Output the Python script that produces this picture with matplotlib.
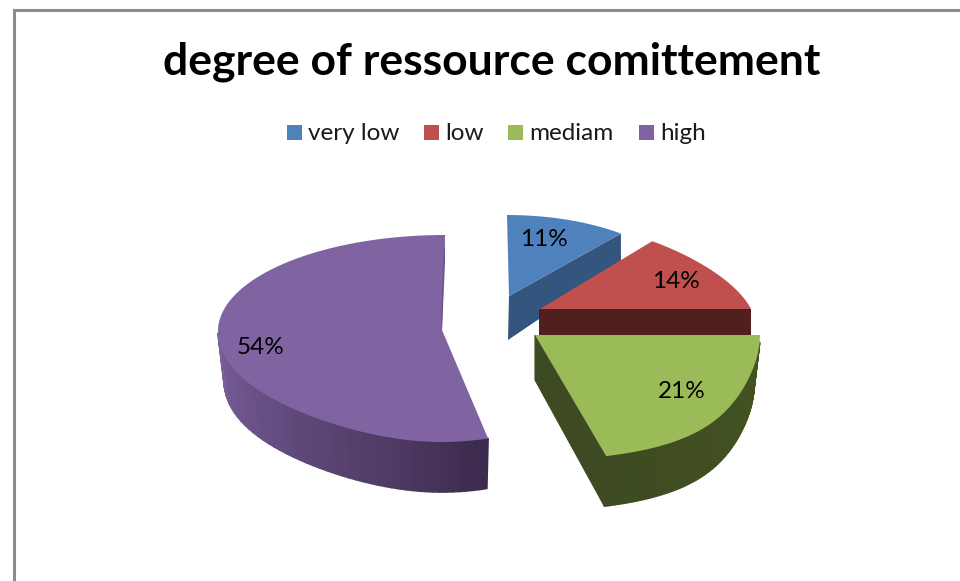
import numpy as np
import matplotlib
matplotlib.use('Agg')
import matplotlib.pyplot as plt
from matplotlib.collections import PolyCollection
from matplotlib.colors import to_rgb
from matplotlib.patches import Polygon, Rectangle

title = 'degree of ressource comittement'
categories = ['very low', 'low', 'mediam', 'high']
shares = [11, 14, 21, 54]

# slice look: apex, radii (back/front of the ellipse), perspective skew, wall depth
top_colors = ['#4f81bd', '#c0504d', '#9bbb59', '#8064a2']
wall_light = ['#34557d', '#4f201d', '#44541f', '#7a5f9b']
wall_dark = ['#34557d', '#4f201d', '#3e4b22', '#3c2b4d']
apex = [(509, 296), (540, 309), (535, 335), (442, 330)]
rx = [178, 211, 225, 224]
ry_back = [81, 88, 90, 95]
ry_front = [90, 90, 125, 112]
skew_back = [0.0, 0.215, 0.0, 0.0]
skew_front = [0.0, 0.0, 0.3, -0.19]
lean = [-2, 0, 0, 3]
depth = [44, 27, 50, 50]
legend_x = [287, 424, 508, 639]
text_pos = [(544, 240), (676, 282), (682, 392), (261, 348)]
wall_shrink = 0.973


def rim(i, theta):
    c = np.cos(theta)
    factor = np.where(c > 0, 1 - skew_back[i] * c, 1 - skew_front[i] * c ** 3)
    x = apex[i][0] + rx[i] * np.sin(theta) * factor + lean[i] * np.clip(c, 0, 1)
    y = apex[i][1] - np.where(c > 0, ry_back[i], ry_front[i]) * c
    return x, y


def draw_slice(ax, i, t0, t1):
    theta = np.linspace(t0, t1, 90)
    x, y = rim(i, theta)
    ax0, ay0 = apex[i]
    d = depth[i]
    xb = ax0 + (x - ax0) * wall_shrink
    light = np.array(to_rgb(wall_light[i]))
    dark = np.array(to_rgb(wall_dark[i]))

    # walls going in from the apex
    if i == 0:
        ax.add_patch(Polygon([(ax0, ay0), (x[-1], y[-1]), (x[-1], y[-1] + d - 14), (ax0 - 1, ay0 + d)],
                             fc=wall_light[i], ec='none', zorder=i + 1))
    if i == 1:
        ax.add_patch(Rectangle((ax0 - 1, ay0), x[-1] - ax0 + 1, d, fc=wall_light[i], ec='none', zorder=i + 1))
    if i == 2:
        ax.add_patch(Polygon([(ax0, ay0), (x[-1], y[-1]), (xb[-1], y[-1] + d), (ax0, ay0 + 45)],
                             fc=wall_dark[i], ec=wall_dark[i], lw=0.8, zorder=i + 1.2))

    # outer wall, shaded in thin strips, only the part that faces the viewer
    if i >= 2:
        polys, cols = [], []
        for k in range(len(theta) - 1):
            if np.cos(theta[k]) > -0.05:
                continue
            polys.append([(x[k], y[k]), (x[k + 1], y[k + 1]), (xb[k + 1], y[k + 1] + d), (xb[k], y[k] + d)])
            f = k / (len(theta) - 2)
            # purple goes dark towards its right end, green stays nearly flat
            f = 1 - f if i == 2 else min(1, f * 1.9)
            cols.append(tuple(dark + (light - dark) * f))
        ax.add_collection(PolyCollection(polys, facecolors=cols, edgecolors=cols, linewidths=1.2, zorder=i + 1))

    ax.add_patch(Polygon(np.r_[[(ax0, ay0)], np.c_[x, y]], fc=top_colors[i], ec='none', zorder=i + 1.5))

    # thin inner wall on the purple slice, seen along its straight edge
    if i == 3:
        ax.add_patch(Polygon([(x[-1], y[-1]), (x[-1], y[-1] + 28), (ax0, ay0), (ax0 - 1, ay0 - 5),
                              (x[-1] - 2, y[-1] + 30)], fc='#6d558c', ec='none', zorder=i + 1.6))


fig = plt.figure(figsize=(9.6, 5.81), dpi=100)
ax = fig.add_axes([0, 0, 1, 1])
ax.set_xlim(0, 960)
ax.set_ylim(581, 0)
ax.axis('off')

# chart frame, cut off by the image on the right and at the bottom
ax.plot([14, 14, 960], [581, 10, 10], color='#8c8c8c', lw=2.2, solid_joinstyle='miter', zorder=0)

edges = 2 * np.pi * np.r_[0, np.cumsum(shares)] / sum(shares)
for i in [3, 0, 1, 2]:
    draw_slice(ax, i, edges[i], edges[i + 1])

plt.rcParams['font.family'] = ['Lato', 'DejaVu Sans']
ax.text(492, 62, title, ha='center', va='center', fontsize=32, fontweight='bold', color='black', zorder=10)
for i, name in enumerate(categories):
    ax.add_patch(Rectangle((legend_x[i], 125), 15, 15, fc=top_colors[i], ec='none', zorder=10))
    ax.text(legend_x[i] + 21, 133, name, ha='left', va='center', fontsize=17.5, color='#1a1a1a', zorder=10)
    ax.text(text_pos[i][0], text_pos[i][1], f'{shares[i]}%', ha='center', va='center', fontsize=17.5,
            color='black', zorder=10)

fig.savefig('out.png', dpi=100, facecolor='white')
